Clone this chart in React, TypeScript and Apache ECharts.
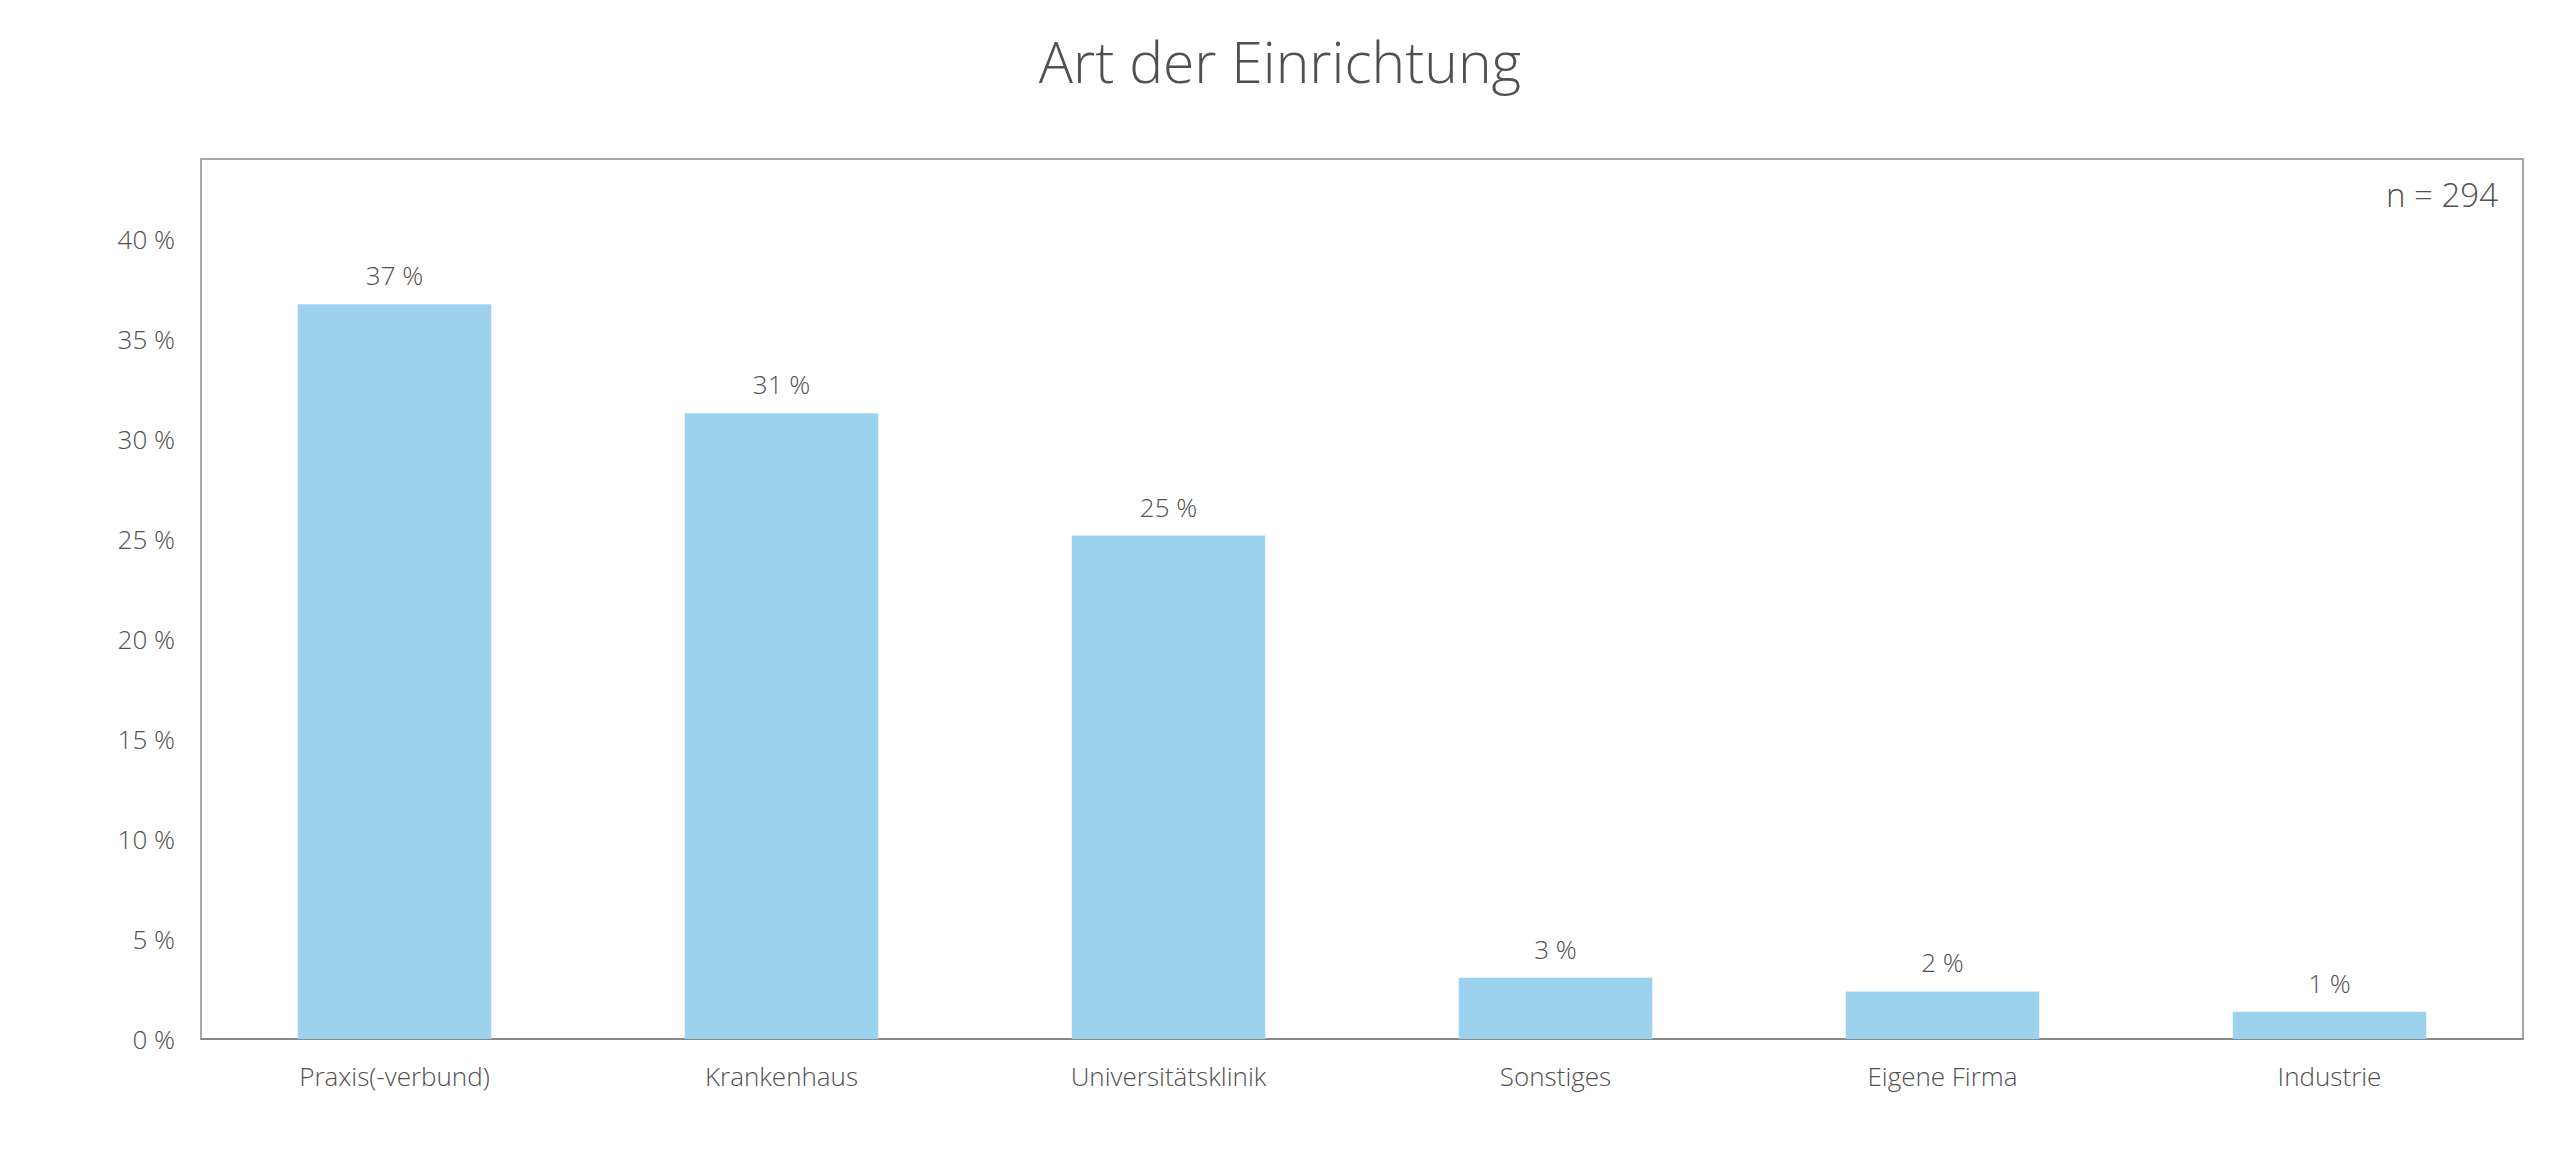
import React, { useEffect, useRef } from "react";
import * as echarts from "echarts";

const categories = ["Praxis(-verbund)", "Krankenhaus", "Universitätsklinik", "Sonstiges", "Eigene Firma", "Industrie"];
const counts = [108, 92, 74, 9, 7, 4];
const total = 294;
const percentValues = counts.map((c) => (c / total) * 100);
const titleText = "Art der Einrichtung";
const sampleText = "n = 294";

const FONT = "'Open Sans', 'Noto Sans', sans-serif";
const TEXT = "#505050";

export default function App() {
  const ref = useRef<HTMLDivElement>(null);
  useEffect(() => {
    if (!ref.current) return;
    const chart = echarts.init(ref.current, undefined, { renderer: "svg" });
    chart.setOption({
      animation: false,
      backgroundColor: "#ffffff",
      textStyle: { fontFamily: FONT, color: TEXT },
      title: {
        text: titleText,
        left: "center",
        top: 27,
        textStyle: { fontFamily: FONT, fontWeight: 300, fontSize: 57, color: TEXT },
      },
      grid: {
        left: 201,
        right: 37,
        top: 159,
        bottom: 122,
        show: true,
        borderColor: "#8c8c8c",
        borderWidth: 1.5,
        backgroundColor: "transparent",
      },
      graphic: [
        {
          type: "text",
          right: 62,
          top: 178,
          style: { text: sampleText, fontFamily: FONT, fontWeight: 300, fontSize: 33, fill: TEXT },
        },
      ],
      xAxis: {
        type: "category",
        data: categories,
        axisTick: { show: false },
        axisLine: { show: true, lineStyle: { color: "#7a7f85", width: 1.5 } },
        axisLabel: { color: TEXT, fontFamily: FONT, fontWeight: 300, fontSize: 26, margin: 24 },
        splitLine: { show: false },
      },
      yAxis: {
        type: "value",
        min: 0,
        max: 44,
        interval: 5,
        axisLine: { show: false },
        axisTick: { show: false },
        splitLine: { show: false },
        axisLabel: {
          color: TEXT,
          fontFamily: FONT,
          fontWeight: 300,
          fontSize: 26,
          margin: 26,
          showMaxLabel: false,
          formatter: (v: number) => (v % 5 === 0 ? `${v} %` : ""),
        },
      },
      series: [
        {
          type: "bar",
          data: percentValues,
          barCategoryGap: "50%",
          itemStyle: { color: "#9dd2ee" },
          label: {
            show: true,
            position: "top",
            distance: 16,
            color: TEXT,
            fontFamily: FONT,
            fontWeight: 300,
            fontSize: 26,
            formatter: (p: any) => `${Math.round(p.value)} %`,
          },
        },
      ],
    });
    return () => chart.dispose();
  }, []);
  return (
    <div
      ref={ref}
      style={{ position: "fixed", left: 0, top: 0, width: 2560, height: 1161, background: "#fff" }}
    />
  );
}
